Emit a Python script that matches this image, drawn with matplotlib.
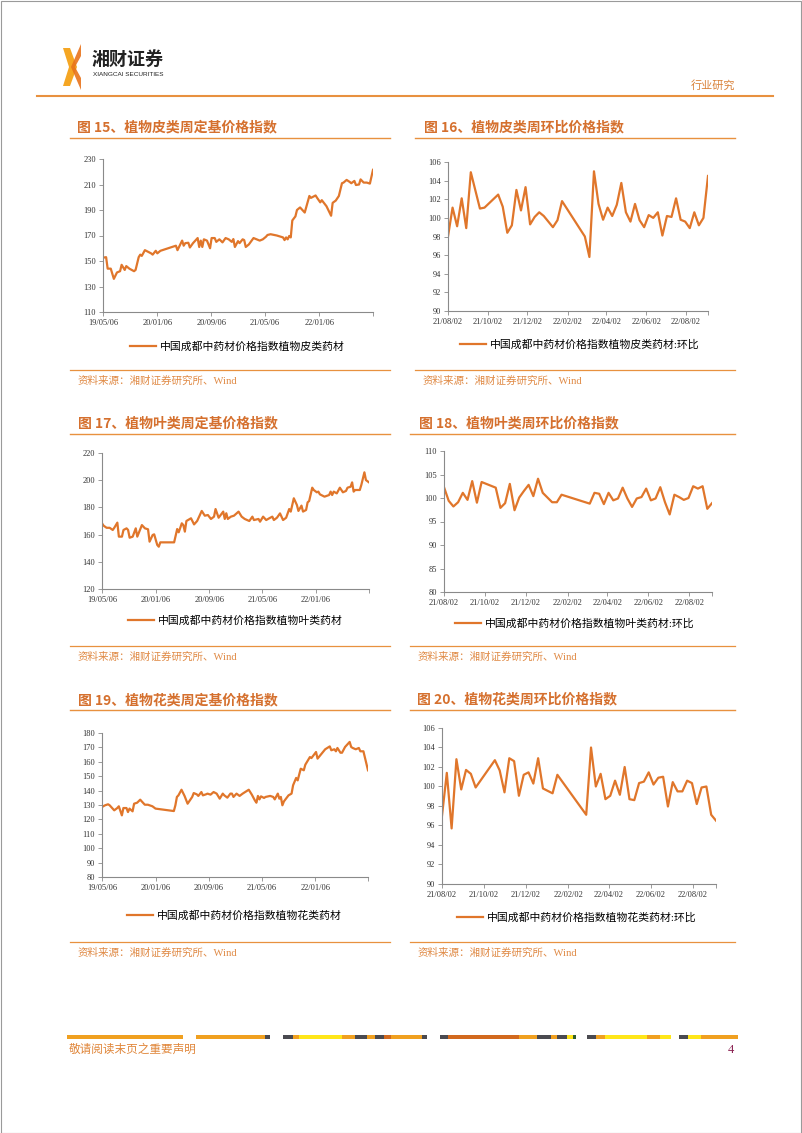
import numpy as np
import matplotlib
matplotlib.use("Agg")
import matplotlib.pyplot as plt
import matplotlib.dates as mdates
from matplotlib.font_manager import FontProperties
from matplotlib.patches import Polygon, Rectangle
from matplotlib.lines import Line2D

# ---------------------------------------------------------------- data
# weekly index values, x given as week number after the series start date
LONG_START = "2019-05-06"
SHORT_START = "2021-08-02"

bark_base_weeks = [0, 2, 3, 5, 7, 9, 11, 12, 14, 15, 17, 20, 21, 23, 24, 25, 27, 31, 32, 34,
                   35, 37, 47, 48, 51, 52, 53, 55, 56, 58, 61, 62, 63, 64, 65, 67, 69, 70, 72, 73,
                   75, 77, 79, 81, 83, 84, 85, 87, 88, 90, 91, 92, 94, 97, 101, 103, 105, 106, 108, 112,
                   116, 117, 118, 119, 120, 121, 122, 124, 125, 127, 130, 133, 134, 137, 138, 140, 141, 144, 147, 148,
                   150, 152, 154, 155, 157, 159, 160, 162, 163, 165, 166, 168, 170, 172, 174]
bark_base_vals = [152.6, 153, 144, 144, 136, 141, 142, 147, 143, 146, 144, 142, 143, 153, 155, 154, 158.5, 156, 155, 158,
                  156, 158, 162, 158.5, 166, 162, 164, 164.3, 160.6, 164, 168, 161, 166, 161, 167, 166, 160, 168, 168, 165,
                  167, 164.6, 168, 167, 165, 167.2, 161, 165.6, 164, 167, 166.4, 161, 163, 168, 166, 167, 169, 170.4, 171, 170,
                  168.5, 166.4, 168.5, 167, 169.6, 168.5, 181.8, 185, 190, 192, 188, 201, 199.5, 201.4, 199.5, 196, 197.7, 193, 185.5, 195.6,
                  197.4, 201, 211, 211.5, 213.6, 212, 211, 212.8, 209.6, 210, 214, 211.5, 211.5, 210.7, 221.5]

leaf_base_weeks = [0, 1, 3, 5, 7, 8, 10, 11, 13, 14, 16, 17, 18, 20, 22, 23, 26, 28, 30, 31,
                   33, 34, 36, 37, 38, 47, 49, 50, 52, 53, 54, 55, 58, 60, 62, 65, 67, 69, 71, 73,
                   74, 76, 77, 79, 80, 81, 82, 84, 86, 89, 91, 93, 96, 98, 99, 102, 103, 105, 107, 109,
                   111, 112, 114, 116, 118, 120, 122, 123, 125, 127, 128, 130, 131, 133, 134, 135, 137, 138, 140, 141,
                   142, 145, 148, 149, 150, 151, 153, 155, 157, 159, 160, 162, 163, 164, 165, 168, 169, 171, 172, 174]
leaf_base_vals = [168.3, 166.6, 165, 165, 163.4, 165, 168.8, 158.5, 158.5, 163.4, 164.6, 163.4, 157.7, 158.5, 164.6, 158.5, 167, 164.6, 163.9, 154.8,
                  159.7, 160.2, 152.4, 151.1, 154.3, 154.3, 164.1, 161.7, 168.3, 167, 162.2, 170, 172, 167.5, 170, 177.4, 173.9, 174.4, 171.5, 173.2,
                  178.8, 172.4, 173.9, 176.9, 171.5, 175.7, 171.5, 173.2, 173.9, 176.9, 173.2, 171.5, 170, 173.2, 170.7, 171.5, 169.5, 173.2, 170.7, 172,
                  173.2, 170.7, 172.4, 175.6, 170.7, 172.4, 178.8, 176.9, 186.7, 181.8, 177.4, 181.3, 176.9, 178.1, 183.7, 184.7, 194.5, 192.8, 191.1, 191.6,
                  189.6, 187.9, 189.1, 191.6, 189.1, 191.6, 190.3, 194.5, 191.1, 192.1, 194.5, 195.2, 198.4, 191.6, 192.8, 192.8, 196.5, 205.8, 200.1, 198.4]

flower_base_weeks = [0, 2, 4, 5, 8, 10, 11, 13, 14, 16, 17, 18, 20, 21, 23, 25, 26, 28, 30, 33,
                     35, 47, 48, 49, 50, 52, 54, 56, 59, 60, 62, 63, 65, 66, 68, 69, 71, 73, 75, 77,
                     79, 80, 82, 84, 85, 86, 88, 90, 92, 96, 98, 100, 101, 102, 103, 104, 106, 107, 110, 112,
                     113, 115, 116, 117, 118, 119, 122, 124, 125, 127, 128, 130, 132, 133, 136, 137, 140, 141, 144, 146,
                     149, 150, 152, 153, 154, 156, 157, 159, 162, 163, 164, 166, 168, 169, 171, 174]
flower_base_vals = [128.6, 129.8, 130.5, 129.8, 126.3, 127.9, 129.1, 122.8, 127.9, 127.9, 125.1, 127.5, 125.6, 130.9, 131.6, 133.7, 132.5, 130.2, 130.2, 129.1,
                    127.5, 125.8, 129.8, 135.6, 136.7, 140.6, 136.3, 130.9, 135.6, 138.3, 137.4, 136.3, 139, 136.7, 137.4, 137.9, 137.2, 139, 137.9, 134.4,
                    137.9, 136.7, 135.1, 137.9, 137.9, 135.6, 137.9, 136.3, 137.9, 140.6, 137.2, 133.2, 131.6, 136.3, 133.9, 136, 134.9, 135.6, 136.3, 135.6,
                    133.9, 137.9, 134.4, 135.6, 129.8, 132.5, 136.7, 137.9, 143.7, 148.8, 147.1, 155.2, 154.1, 158, 163.3, 162.6, 166.8, 162.2, 166.1, 168.7,
                    170.7, 168, 168.7, 167.3, 169.6, 166.3, 166.3, 170.3, 173.8, 170.3, 169.6, 168.7, 169.6, 167.3, 167.3, 154.1]

bark_wow_weeks = [0, 1, 2, 3, 4, 5, 7, 8, 11, 12, 13, 14, 15, 16, 17, 18, 19, 20, 21, 23,
                  24, 25, 30, 31, 32, 33, 34, 35, 36, 37, 38, 39, 40, 41, 42, 43, 44, 45, 46, 47,
                  48, 49, 50, 51, 52, 53, 54, 55, 56, 57]
bark_wow_vals = [98.0, 101.1, 99.1, 102.1, 98.9, 104.9, 101.0, 101.1, 102.5, 101.2, 98.4, 99.2, 103.0, 100.8, 103.3, 99.3, 100.1, 100.6, 100.2, 99.0,
                 99.75, 101.8, 98.0, 95.8, 105.0, 101.5, 99.8, 101.1, 100.2, 101.4, 103.75, 100.6, 99.6, 101.5, 99.75, 99.0, 100.3, 100.0, 100.6, 98.1,
                 100.2, 100.1, 102.1, 99.8, 99.6, 98.9, 100.6, 99.2, 100.0, 104.5]

leaf_wow_weeks = [0, 1, 2, 3, 4, 5, 6, 7, 8, 11, 12, 13, 14, 15, 16, 17, 18, 19, 20, 21,
                  22, 23, 24, 25, 31, 32, 33, 34, 35, 36, 37, 38, 39, 40, 41, 42, 43, 44, 45, 46,
                  47, 48, 49, 50, 51, 52, 53, 54, 55, 56, 57]
leaf_wow_vals = [102.3, 99.4, 98.2, 99.1, 101.1, 99.6, 103.6, 99.0, 103.4, 102.2, 97.9, 98.9, 103.0, 97.4, 100.1, 101.5, 102.8, 100.4, 104.1, 101.1,
                 100.1, 99.1, 99.1, 100.7, 98.8, 101.1, 100.9, 98.7, 101.1, 99.5, 99.9, 102.2, 99.9, 98.1, 99.9, 100.2, 102.0, 99.5, 99.9, 102.3,
                 99.1, 96.5, 100.7, 100.2, 99.6, 100.0, 102.5, 102.0, 102.5, 97.7, 98.9]

flower_wow_weeks = [0, 1, 2, 3, 4, 5, 6, 7, 11, 12, 13, 14, 15, 16, 17, 18, 19, 20, 21, 23,
                    24, 30, 31, 32, 33, 34, 35, 36, 37, 38, 39, 40, 41, 42, 43, 44, 45, 46, 47, 48,
                    49, 50, 51, 52, 53, 54, 55, 56, 57]
flower_wow_vals = [97.0, 101.4, 95.7, 102.8, 99.7, 101.7, 101.3, 99.9, 102.7, 101.65, 99.4, 102.9, 102.6, 99.05, 101.2, 101.45, 100.3, 102.9, 99.8, 99.3,
                   101.2, 97.1, 104.0, 100.0, 101.3, 98.7, 99.05, 100.6, 99.15, 102.0, 98.7, 98.6, 100.35, 100.5, 101.45, 100.2, 100.9, 101.0, 97.95, 100.45,
                   99.5, 99.5, 100.6, 100.35, 98.2, 99.9, 100.0, 97.1, 96.5]

long_ticks = ["2019-05-06", "2020-01-06", "2020-09-06", "2021-05-06", "2022-01-06"]
short_ticks = ["2021-08-02", "2021-10-02", "2021-12-02", "2022-02-02", "2022-04-02", "2022-06-02", "2022-08-02"]

titles = ["图 15、植物皮类周定基价格指数", "图 16、植物皮类周环比价格指数",
          "图 17、植物叶类周定基价格指数", "图 18、植物叶类周环比价格指数",
          "图 19、植物花类周定基价格指数", "图 20、植物花类周环比价格指数"]
legends = ["中国成都中药材价格指数植物皮类药材", "中国成都中药材价格指数植物皮类药材:环比",
           "中国成都中药材价格指数植物叶类药材", "中国成都中药材价格指数植物叶类药材:环比",
           "中国成都中药材价格指数植物花类药材", "中国成都中药材价格指数植物花类药材:环比"]
source_text = "资料来源：湘财证券研究所、Wind"

# ---------------------------------------------------------------- style
W, H = 802, 1133
CJK_BOLD = ["Noto Sans CJK SC", "DejaVu Sans"]
SERIF_CJK = ["Liberation Serif", "Noto Sans CJK SC"]
LINE = "#E0762B"
TITLE_C = "#D5702E"
RULE_C = "#E8913F"
AXIS_C = "#8A8A8A"

plt.rcParams["font.family"] = SERIF_CJK


def fx(x):
    return x / W


def fy(y):
    return 1 - y / H


def to_dates(start, weeks):
    return np.datetime64(start) + np.array(weeks) * np.timedelta64(7, "D")


fig = plt.figure(figsize=(W / 100, H / 100), dpi=100)

# page border
fig.patches.append(Rectangle((fx(0.5), fy(1132.5)), fx(800), 1131.5 / H, transform=fig.transFigure,
                             fill=False, edgecolor="#9a9a9a", linewidth=0.8))

# ---------------------------------------------------------------- header
logo_a = [(63, 48), (70, 48), (77, 67), (70, 86), (63, 86), (69, 67)]
logo_b = [(81, 44), (81, 56), (75, 67), (81, 78), (81, 90), (71, 67)]
fig.patches.append(Polygon([(fx(x), fy(y)) for x, y in logo_a], closed=True, transform=fig.transFigure,
                           facecolor="#F5A623", edgecolor="none"))
fig.patches.append(Polygon([(fx(x), fy(y)) for x, y in logo_b], closed=True, transform=fig.transFigure,
                           facecolor="#E8731B", edgecolor="none", alpha=0.9))
fig.text(fx(92), fy(59), "湘财证券", family=CJK_BOLD, fontsize=13, weight="bold", color="#222222", va="center")
fig.text(fx(93), fy(74), "XIANGCAI SECURITIES", family=["Liberation Sans"], fontsize=4.6, color="#222222",
         va="center")
fig.text(fx(735), fy(85), "行业研究", family=SERIF_CJK, fontsize=8, color="#D9823A", ha="right", va="center")
fig.add_artist(Line2D([fx(37), fx(773)], [fy(95.5), fy(95.5)], transform=fig.transFigure,
                      color=RULE_C, linewidth=1.5))

# ---------------------------------------------------------------- charts
charts = [
    # axes box (x0, y0, x1, y1), title pos, title rule, legend anchor, source rule + text
    dict(box=(103, 159, 373, 312), tx=77, ty=127, rule=(70, 390, 138), lx=130, ly=347, src=(70, 390, 370, 78, 381),
         start=LONG_START, weeks=bark_base_weeks, vals=bark_base_vals, ticks=long_ticks, yt=(110, 230, 20)),
    dict(box=(448, 162, 708, 311), tx=424, ty=127, rule=(415, 735, 138), lx=460, ly=345, src=(415, 735, 370, 423, 381),
         start=SHORT_START, weeks=bark_wow_weeks, vals=bark_wow_vals, ticks=short_ticks, yt=(90, 106, 2)),
    dict(box=(102, 453, 369, 589), tx=78, ty=423, rule=(70, 390, 434), lx=128, ly=621, src=(70, 390, 645.5, 78, 657),
         start=LONG_START, weeks=leaf_base_weeks, vals=leaf_base_vals, ticks=long_ticks, yt=(120, 220, 20)),
    dict(box=(444, 451, 712, 592), tx=419, ty=423, rule=(410, 735, 434), lx=455, ly=624, src=(410, 735, 645.5, 418, 657),
         start=SHORT_START, weeks=leaf_wow_weeks, vals=leaf_wow_vals, ticks=short_ticks, yt=(80, 110, 5)),
    dict(box=(102, 733, 368, 877), tx=78, ty=700, rule=(70, 390, 710), lx=127, ly=916, src=(70, 390, 941.5, 78, 953),
         start=LONG_START, weeks=flower_base_weeks, vals=flower_base_vals, ticks=long_ticks, yt=(80, 180, 10)),
    dict(box=(442, 728, 716, 884), tx=417, ty=699, rule=(410, 735, 710), lx=457, ly=918, src=(410, 735, 941.5, 418, 953),
         start=SHORT_START, weeks=flower_wow_weeks, vals=flower_wow_vals, ticks=short_ticks, yt=(90, 106, 2)),
]

for i, c in enumerate(charts):
    x0, y0, x1, y1 = c["box"]
    ax = fig.add_axes([fx(x0), fy(y1), (x1 - x0) / W, (y1 - y0) / H])
    dates = to_dates(c["start"], c["weeks"])
    ax.plot(dates, c["vals"], color=LINE, linewidth=1.6, solid_joinstyle="round", label=legends[i])

    tick_dates = [np.datetime64(t) for t in c["ticks"]]
    ax.set_xlim(np.datetime64(c["start"]), dates[-1])
    ax.set_xticks(tick_dates + [dates[-1]])
    ax.set_xticklabels([mdates.num2date(mdates.date2num(t)).strftime("%y/%m/%d") for t in tick_dates] + [""])
    lo, hi, step = c["yt"]
    ax.set_ylim(lo, hi)
    ax.set_yticks(np.arange(lo, hi + step / 2, step))

    for s in ("top", "right"):
        ax.spines[s].set_visible(False)
    for s in ("left", "bottom"):
        ax.spines[s].set_color(AXIS_C)
        ax.spines[s].set_linewidth(0.8)
    ax.tick_params(axis="both", direction="out", length=3, width=0.6, color=AXIS_C,
                   labelsize=6, labelcolor="#333333", pad=2)
    ax.patch.set_alpha(0)

    ax.legend(loc="center left", bbox_to_anchor=(fx(c["lx"]), fy(c["ly"])), bbox_transform=fig.transFigure,
              frameon=False, handlelength=2.4, handletextpad=0.35, borderpad=0, borderaxespad=0,
              prop=FontProperties(family=SERIF_CJK, size=7.8))

    fig.text(fx(c["tx"]), fy(c["ty"]), titles[i], family=CJK_BOLD, fontsize=10, weight="bold",
             color=TITLE_C, va="center")
    rx0, rx1, ry = c["rule"]
    fig.add_artist(Line2D([fx(rx0), fx(rx1)], [fy(ry), fy(ry)], transform=fig.transFigure,
                          color=RULE_C, linewidth=1.0))
    sx0, sx1, sy, stx, sty = c["src"]
    fig.add_artist(Line2D([fx(sx0), fx(sx1)], [fy(sy), fy(sy)], transform=fig.transFigure,
                          color=RULE_C, linewidth=0.9))
    fig.text(fx(stx), fy(sty), source_text, family=SERIF_CJK, fontsize=7.6, color="#E08A45", va="center")

# ---------------------------------------------------------------- footer
footer_segments = [
    (67, 183, "#F0A020"), (196, 265, "#F0A020"), (265, 270, "#4A4A50"),
    (283, 293, "#4A4A50"), (293, 299, "#F0A020"), (299, 342, "#FFE619"), (342, 355, "#F0A020"),
    (355, 367, "#4A4A50"), (367, 375, "#F0A020"), (375, 384, "#4A4A50"), (384, 391, "#D2691E"),
    (391, 422, "#F0A020"), (422, 427, "#4A4A50"),
    (440, 448, "#4A4A50"), (448, 519, "#D2691E"), (519, 537, "#F0A020"), (537, 551, "#4A4A50"),
    (551, 557, "#F0A020"), (557, 567, "#4A4A50"), (567, 573, "#FFE619"), (573, 576, "#2E5E2E"),
    (587, 596, "#4A4A50"), (596, 605, "#F0A020"), (605, 647, "#FFE619"), (647, 660, "#F0A020"),
    (660, 671, "#FFE619"),
    (679, 688, "#4A4A50"), (688, 701, "#FFE619"), (701, 738, "#F0A020"),
]
for a, b, col in footer_segments:
    fig.patches.append(Rectangle((fx(a), fy(1038.5)), (b - a) / W, 3.5 / H, transform=fig.transFigure,
                                 facecolor=col, edgecolor="none"))
fig.text(fx(69), fy(1050), "敬请阅读末页之重要声明", family=SERIF_CJK, fontsize=8.4, color="#E0863A", va="center")
fig.text(fx(734), fy(1050), "4", family=SERIF_CJK, fontsize=9, color="#8B2252", va="center", ha="right")

fig.savefig("out.png", dpi=100)
